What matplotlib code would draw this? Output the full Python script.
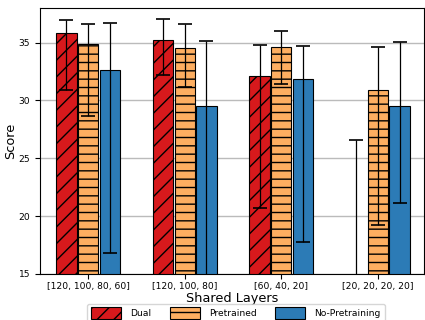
import numpy as np
import matplotlib
matplotlib.use("Agg")
import matplotlib.pyplot as plt

groups = ["[120, 100, 80, 60]", "[120, 100, 80]", "[60, 40, 20]", "[20, 20, 20, 20]"]
series = ["Dual", "Pretrained", "No-Pretraining"]

dual = [35.84, 35.23, 32.12, 10.0]
dual_lo = [4.97, 3.06, 11.38, 5.0]
dual_hi = [1.09, 1.82, 2.65, 16.6]

pre = [34.91, 34.54, 34.60, 30.90]
pre_lo = [6.21, 3.41, 3.15, 11.66]
pre_hi = [1.73, 2.10, 1.45, 3.73]

nopre = [32.66, 29.49, 31.83, 29.49]
nopre_lo = [15.87, 15.5, 14.09, 8.32]
nopre_hi = [4.04, 5.62, 2.85, 5.54]

colors = ["#d7191c", "#fdae61", "#2c7bb6"]
hatches = ["//", "--", ""]

fig = plt.figure(figsize=(4.25, 3.2), dpi=100)
ax = fig.add_axes([0.094, 0.144, 0.904, 0.831])

x = np.arange(len(groups))
w = 0.21
off = 0.225
data = [(dual, dual_lo, dual_hi), (pre, pre_lo, pre_hi), (nopre, nopre_lo, nopre_hi)]
for i, (vals, lo, hi) in enumerate(data):
    ax.bar(x + (i - 1) * off, vals, w, yerr=[lo, hi], color=colors[i],
           hatch=hatches[i], edgecolor="black", linewidth=0.8, label=series[i],
           capsize=5, error_kw=dict(ecolor="black", elinewidth=0.9, capthick=1.2),
           zorder=2)

ax.set_ylim(15, 38)
ax.set_xlim(-0.5, 3.48)
ax.set_yticks([15, 20, 25, 30, 35])
ax.set_xticks(x)
ax.set_xticklabels(groups)
ax.tick_params(labelsize=6.6)
ax.tick_params(axis="x", pad=2)
ax.yaxis.grid(True, color="#bbbbbb", linewidth=1, zorder=0)
ax.set_axisbelow(True)
ax.set_ylabel("Score", fontsize=9.3, labelpad=1)
ax.set_xlabel("Shared Layers", fontsize=9.3, labelpad=1)

ax.legend(loc="upper center", bbox_to_anchor=(0.51, -0.095), ncol=3,
          fontsize=6.6, handlelength=3.3, handleheight=1.6, columnspacing=2.0,
          handletextpad=1.0)

fig.savefig("out.png", dpi=100)
